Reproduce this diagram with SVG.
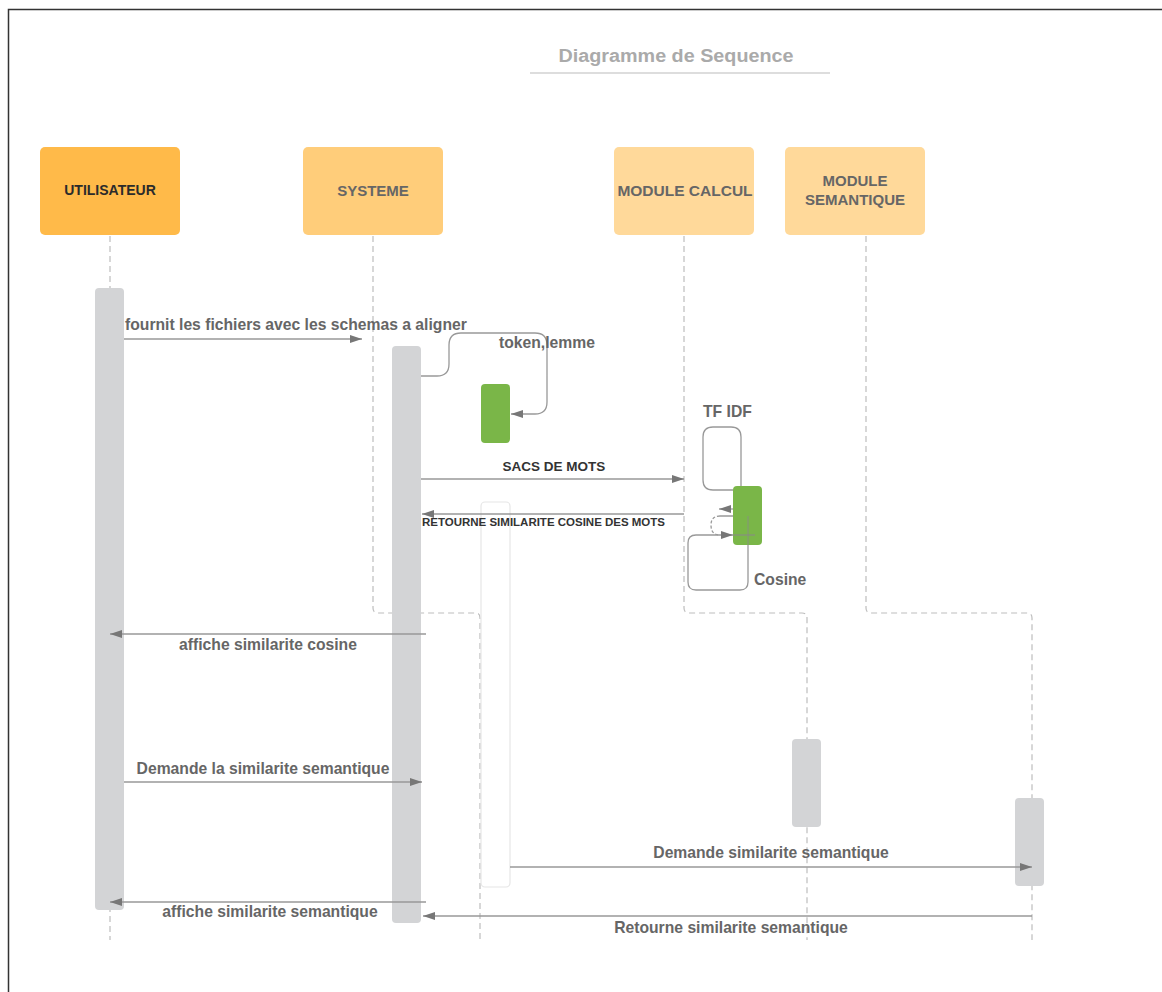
<svg xmlns="http://www.w3.org/2000/svg" width="1162" height="992" viewBox="0 0 1162 992">
<defs>
<marker id="ah" markerUnits="userSpaceOnUse" markerWidth="13" markerHeight="8" refX="12" refY="4" orient="auto">
<path d="M0,0 L12,4 L0,8 z" fill="#777"/>
</marker>
<style>
.hdr{font-family:"Liberation Sans",Arial,sans-serif;font-weight:bold;font-size:15px;fill:#666;text-anchor:middle}
.lbl{font-family:"Liberation Sans",Arial,sans-serif;font-weight:bold;font-size:15.7px;fill:#666}
.life{fill:none;stroke:#bdbdbd;stroke-width:1.2;stroke-dasharray:6 4}
.act{fill:#d3d4d6}
.grn{fill:#7ab648}
.msg{fill:none;stroke:#999;stroke-width:1.3}
</style>
</defs>
<rect x="0" y="0" width="1162" height="992" fill="#fff"/>
<rect x="8.5" y="9.5" width="1170" height="1000" fill="none" stroke="#333" stroke-width="1.5"/>
<g id="title">
<text x="676" y="62" font-family="'Liberation Sans',Arial,sans-serif" font-weight="bold" font-size="18" fill="#aaa" text-anchor="middle" textLength="235" lengthAdjust="spacingAndGlyphs">Diagramme de Sequence</text>
<line x1="530" y1="73" x2="830" y2="73" stroke="#ddd" stroke-width="2"/>
</g>
<g id="lifelines">
<path class="life" d="M110,236 V940"/>
<path class="life" d="M373,236 V608 Q373,613 378,613 H476 Q480,613 480,618 V940"/>
<path class="life" d="M684,236 V608 Q684,613 689,613 H802 Q807,613 807,618 V940"/>
<path class="life" d="M866,236 V608 Q866,613 871,613 H1027 Q1032,613 1032,618 V940"/>
</g>
<g id="utilisateur">
<rect x="40" y="147" width="140" height="88" rx="5" fill="#ffba49"/>
<text class="hdr" x="110" y="195" style="fill:#2b2b2b;font-size:14px">UTILISATEUR</text>
</g>
<g id="systeme">
<rect x="303" y="147" width="140" height="88" rx="5" fill="#ffcd7a"/>
<text class="hdr" x="373" y="196">SYSTEME</text>
</g>
<g id="module-calcul">
<rect x="614" y="147" width="140" height="88" rx="5" fill="#ffd99a"/>
<text class="hdr" x="685" y="196" style="font-size:15.5px">MODULE CALCUL</text>
</g>
<g id="module-semantique">
<rect x="785" y="147" width="140" height="88" rx="5" fill="#ffd99a"/>
<text class="hdr" x="855" y="186">MODULE</text>
<text class="hdr" x="855" y="205">SEMANTIQUE</text>
</g>
<g id="activations">
<rect class="act" x="95" y="288" width="29" height="622" rx="4"/>
<rect class="act" x="392" y="346" width="29" height="577" rx="4"/>
<rect class="grn" x="481" y="384" width="29" height="59" rx="4"/>
<rect x="481" y="502" width="29" height="385" rx="4" fill="#fff" stroke="#e6e6e6" stroke-width="1.2"/>
<rect class="act" x="792" y="739" width="29" height="88" rx="4"/>
<rect class="act" x="1015" y="798" width="29" height="88" rx="4"/>
</g>
<g id="connectors">
<line class="msg" x1="124" y1="339" x2="362" y2="339" marker-end="url(#ah)"/>
<path class="msg" d="M421,376 H437 Q449,376 449,364 V345 Q449,333 461,333 H535 Q547,333 547,345 V402 Q547,414 535,414 H511" marker-end="url(#ah)"/>
<line class="msg" x1="421" y1="479" x2="684" y2="479" marker-end="url(#ah)"/>
<line class="msg" x1="684" y1="514" x2="422" y2="514" marker-end="url(#ah)"/>
<path class="msg" d="M741,487 V437 Q741,427 731,427 H713 Q703,427 703,437 V480 Q703,490 713,490 H733"/>
<line class="msg" x1="733" y1="509" x2="719" y2="509" marker-end="url(#ah)"/>
<path class="msg" d="M720,516 H740 Q748,516 748,524 V582 Q748,590 740,590 H696 Q688,590 688,582 V543 Q688,535 696,535 H733" marker-end="url(#ah)"/>
<path class="msg" d="M720,516 Q711,516 711,525 Q711,535 720,535" stroke-dasharray="3 2"/>
<line class="msg" x1="426" y1="634" x2="110" y2="634" marker-end="url(#ah)"/>
<line class="msg" x1="124" y1="782" x2="422" y2="782" marker-end="url(#ah)"/>
<line class="msg" x1="510" y1="867" x2="1032" y2="867" marker-end="url(#ah)"/>
<line class="msg" x1="426" y1="902" x2="110" y2="902" marker-end="url(#ah)"/>
<line class="msg" x1="1032" y1="916" x2="423" y2="916" marker-end="url(#ah)"/>
</g>
<g id="calcul-activation">
<rect class="grn" x="733" y="486" width="29" height="59" rx="4"/>
<line x1="733" y1="535" x2="755" y2="535" stroke="#8a8a8a" stroke-width="1.3" opacity="0.8"/>
<path d="M748,516 V545" stroke="#8a8a8a" stroke-width="1.3" opacity="0.6" fill="none"/>
</g>
<g id="labels">
<text class="lbl" x="125" y="330">fournit les fichiers avec les schemas a aligner</text>
<text class="lbl" x="499" y="348">token,lemme</text>
<text class="lbl" x="554" y="471" text-anchor="middle" style="fill:#333;font-size:13.5px">SACS DE MOTS</text>
<text class="lbl" x="422" y="526" style="fill:#333;font-size:11px" textLength="243" lengthAdjust="spacingAndGlyphs">RETOURNE SIMILARITE COSINE DES MOTS</text>
<text class="lbl" x="703" y="417">TF IDF</text>
<text class="lbl" x="754" y="585">Cosine</text>
<text class="lbl" x="268" y="650" text-anchor="middle">affiche similarite cosine</text>
<text class="lbl" x="263" y="774" text-anchor="middle">Demande la similarite semantique</text>
<text class="lbl" x="771" y="858" text-anchor="middle">Demande similarite semantique</text>
<text class="lbl" x="270" y="917" text-anchor="middle">affiche similarite semantique</text>
<text class="lbl" x="731" y="933" text-anchor="middle">Retourne similarite semantique</text>
</g>
</svg>
